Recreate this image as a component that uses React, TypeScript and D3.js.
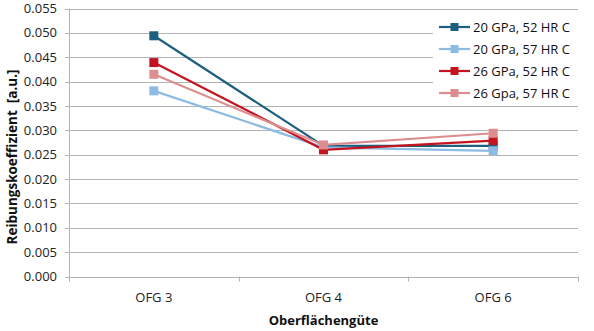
import React from "react";
import * as d3 from "d3";

const categories = ["OFG 3", "OFG 4", "OFG 6"];
const seriesNames = ["20 GPa, 52 HR C", "20 GPa, 57 HR C", "26 GPa, 52 HR C", "26 Gpa, 57 HR C"];
const s1 = [0.0494, 0.0268, 0.0268];
const s2 = [0.0381, 0.0265, 0.0258];
const s3 = [0.0439, 0.026, 0.0279];
const s4 = [0.0415, 0.027, 0.0294];
const yTicks = [0, 0.005, 0.01, 0.015, 0.02, 0.025, 0.03, 0.035, 0.04, 0.045, 0.05, 0.055];
const colors = ["#1c5f7f", "#8cbbe3", "#c3141f", "#dc8e8e"];

const W = 594, H = 331;
const left = 69, right = 578, top = 8.5, bottom = 276.5;
const font = "'Open Sans', 'Liberation Sans', sans-serif";

export default function App() {
  const data = [s1, s2, s3, s4];
  const x = d3.scaleBand<string>().domain(categories).range([left, right]);
  const y = d3.scaleLinear().domain([0, 0.055]).range([bottom, top]);
  const line = d3
    .line<number>()
    .x((_, i) => (x(categories[i]) as number) + x.bandwidth() / 2)
    .y((d) => y(d));
  const legendX = 433, legendY = 16, legendRow = 22;
  return (
    <svg width={W} height={H} style={{ position: "absolute", left: 0, top: 0, background: "#fff" }} fontFamily={font}>
      {yTicks.map((t) => (
        <g key={t}>
          <line x1={left - 4} x2={right} y1={Math.round(y(t)) + 0.5} y2={Math.round(y(t)) + 0.5} stroke="#b3b3b3" strokeWidth={1} />
          <text x={57} y={y(t)} dy="0.35em" textAnchor="end" fontSize={13} fill="#222">
            {d3.format(".3f")(t)}
          </text>
        </g>
      ))}
      <line x1={left + 0.5} x2={left + 0.5} y1={top} y2={bottom + 5} stroke="#b3b3b3" />
      {[...categories.map((c) => x(c) as number), right].map((px, i) => (
        <line key={i} x1={Math.round(px) + 0.5} x2={Math.round(px) + 0.5} y1={bottom} y2={bottom + 5} stroke="#b3b3b3" />
      ))}
      {categories.map((c) => (
        <text key={c} x={(x(c) as number) + x.bandwidth() / 2} y={297} dy="0.35em" textAnchor="middle" fontSize={13} fill="#222">
          {c}
        </text>
      ))}
      <text x={(left + right) / 2} y={320} dy="0.35em" textAnchor="middle" fontSize={13} fontWeight="bold" fill="#111">
        Oberflächengüte
      </text>
      <text transform={`translate(12,157) rotate(-90)`} textAnchor="middle" dy="0.35em" fontSize={13.5} fontWeight="bold" fill="#111" style={{ whiteSpace: "pre" }}>
        Reibungskoeffizient  [a.u.]
      </text>
      <rect x={legendX} y={12} width={145} height={91} fill="#fff" />
      {data.map((d, si) => (
        <g key={si}>
          <path d={line(d) || ""} fill="none" stroke={colors[si]} strokeWidth={2.2} />
          {d.map((v, i) => (
            <rect
              key={i}
              x={(x(categories[i]) as number) + x.bandwidth() / 2 - 4.5}
              y={y(v) - 4.5}
              width={9}
              height={9}
              fill={colors[si]}
            />
          ))}
        </g>
      ))}
      {seriesNames.map((n, i) => {
        const ly = legendY + 11 + i * legendRow;
        return (
          <g key={n}>
            <line x1={439} x2={470} y1={ly} y2={ly} stroke={colors[i]} strokeWidth={2.2} />
            <rect x={450.5} y={ly - 4} width={8} height={8} fill={colors[i]} />
            <text x={473} y={ly} dy="0.35em" fontSize={13} fill="#111">
              {n}
            </text>
          </g>
        );
      })}
    </svg>
  );
}
